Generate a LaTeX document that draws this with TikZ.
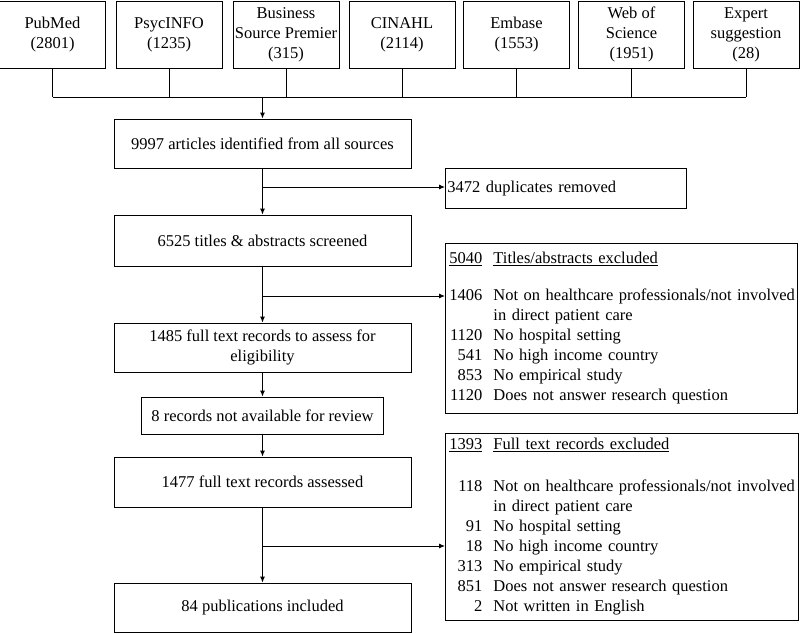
\documentclass[tikz,border=0pt]{standalone}
\usepackage{fontspec}
\setmainfont{Liberation Serif}
\usetikzlibrary{arrows.meta, positioning}

\begin{document}
\begin{tikzpicture}[x=1pt, y=-1pt, line width=0.9pt, font=\fontsize{16.5}{20}\selectfont,
    srcbox/.style={draw, align=center, minimum width=106, minimum height=67, inner sep=1},
    stepbox/.style={draw, align=center, minimum width=297, inner sep=2},
    exclbox/.style={draw, anchor=north west, align=left, inner xsep=4, inner ysep=0},
    flow/.style={-{Latex[length=6pt,width=5pt]}}]
    \useasboundingbox (0,0) rectangle (800,633);
    % sources
    \foreach \nom/\cx/\lab in {pubmed/52.5/{PubMed\\(2801)}, psyc/169/{PsycINFO\\(1235)},
        bsp/286/{Business\\Source Premier\\(315)}, cinahl/402/{CINAHL\\(2114)},
        embase/516.5/{Embase\\(1553)}, wos/631.5/{Web of\\Science\\(1951)},
        expert/746/{Expert\\suggestion\\(28)}} {
      \node[srcbox] (\nom) at (\cx,34.5) {\lab};
    }
    \coordinate (merge) at (262.5,97);
    \foreach \nom in {pubmed,psyc,bsp,cinahl,embase,wos,expert}
      \draw (\nom.south) -- (\nom.south |- merge);
    \draw (pubmed.south |- merge) -- (expert.south |- merge);
    % main flow
    \node[stepbox, minimum height=49] (ident) at (262.5,143.5) {9997 articles identified from all sources};
    \draw[flow] (merge) -- (merge |- ident.north);
    \node[stepbox, minimum height=51] (screen) at (262.5,240.5) {6525 titles \& abstracts screened};
    \node[exclbox, text width=237, minimum height=40, inner xsep=2] (dup) at (445,168) {3472 duplicates removed};
    \draw[flow] (ident) -- (screen);
    \coordinate (b1) at (262.5,187);
    \draw[flow] (b1) -- (b1 -| dup.west);
    \node[stepbox, minimum height=49] (elig) at (262.5,347.5) {1485 full text records to assess for\\eligibility};
    \node[exclbox, text width=344, minimum height=170] (excl1) at (445,243) {%
      \begin{tabular}{@{}r@{\hspace{11pt}}l@{}}
        \underline{5040} & \underline{Titles/abstracts excluded}\\[17pt]
        1406 & Not on healthcare professionals/not involved\\
             & in direct patient care\\
        1120 & No hospital setting\\
        541 & No high income country\\
        853 & No empirical study\\
        1120 & Does not answer research question
      \end{tabular}};
    \draw[flow] (screen) -- (elig);
    \coordinate (b2) at (262.5,296);
    \draw[flow] (b2) -- (b2 -| excl1.west);
    \node[stepbox, minimum width=242, minimum height=37] (navail) at (262.5,415.5) {8 records not available for review};
    \node[stepbox, minimum height=50] (assess) at (262.5,482) {1477 full text records assessed};
    \node[stepbox, minimum height=49] (incl) at (262.5,607.5) {84 publications included};
    \node[exclbox, text width=345, minimum height=187] (excl2) at (445,433) {%
      \begin{tabular}{@{}r@{\hspace{11pt}}l@{}}
        \underline{1393} & \underline{Full text records excluded}\\[22pt]
        118 & Not on healthcare professionals/not involved\\
            & in direct patient care\\
        91 & No hospital setting\\
        18 & No high income country\\
        313 & No empirical study\\
        851 & Does not answer research question\\
        2 & Not written in English
      \end{tabular}};
    \draw[flow] (elig) -- (navail);
    \draw[flow] (navail) -- (assess);
    \draw[flow] (assess) -- (incl);
    \coordinate (b3) at (262.5,546);
    \draw[flow] (b3) -- (b3 -| excl2.west);
\end{tikzpicture}
\end{document}
